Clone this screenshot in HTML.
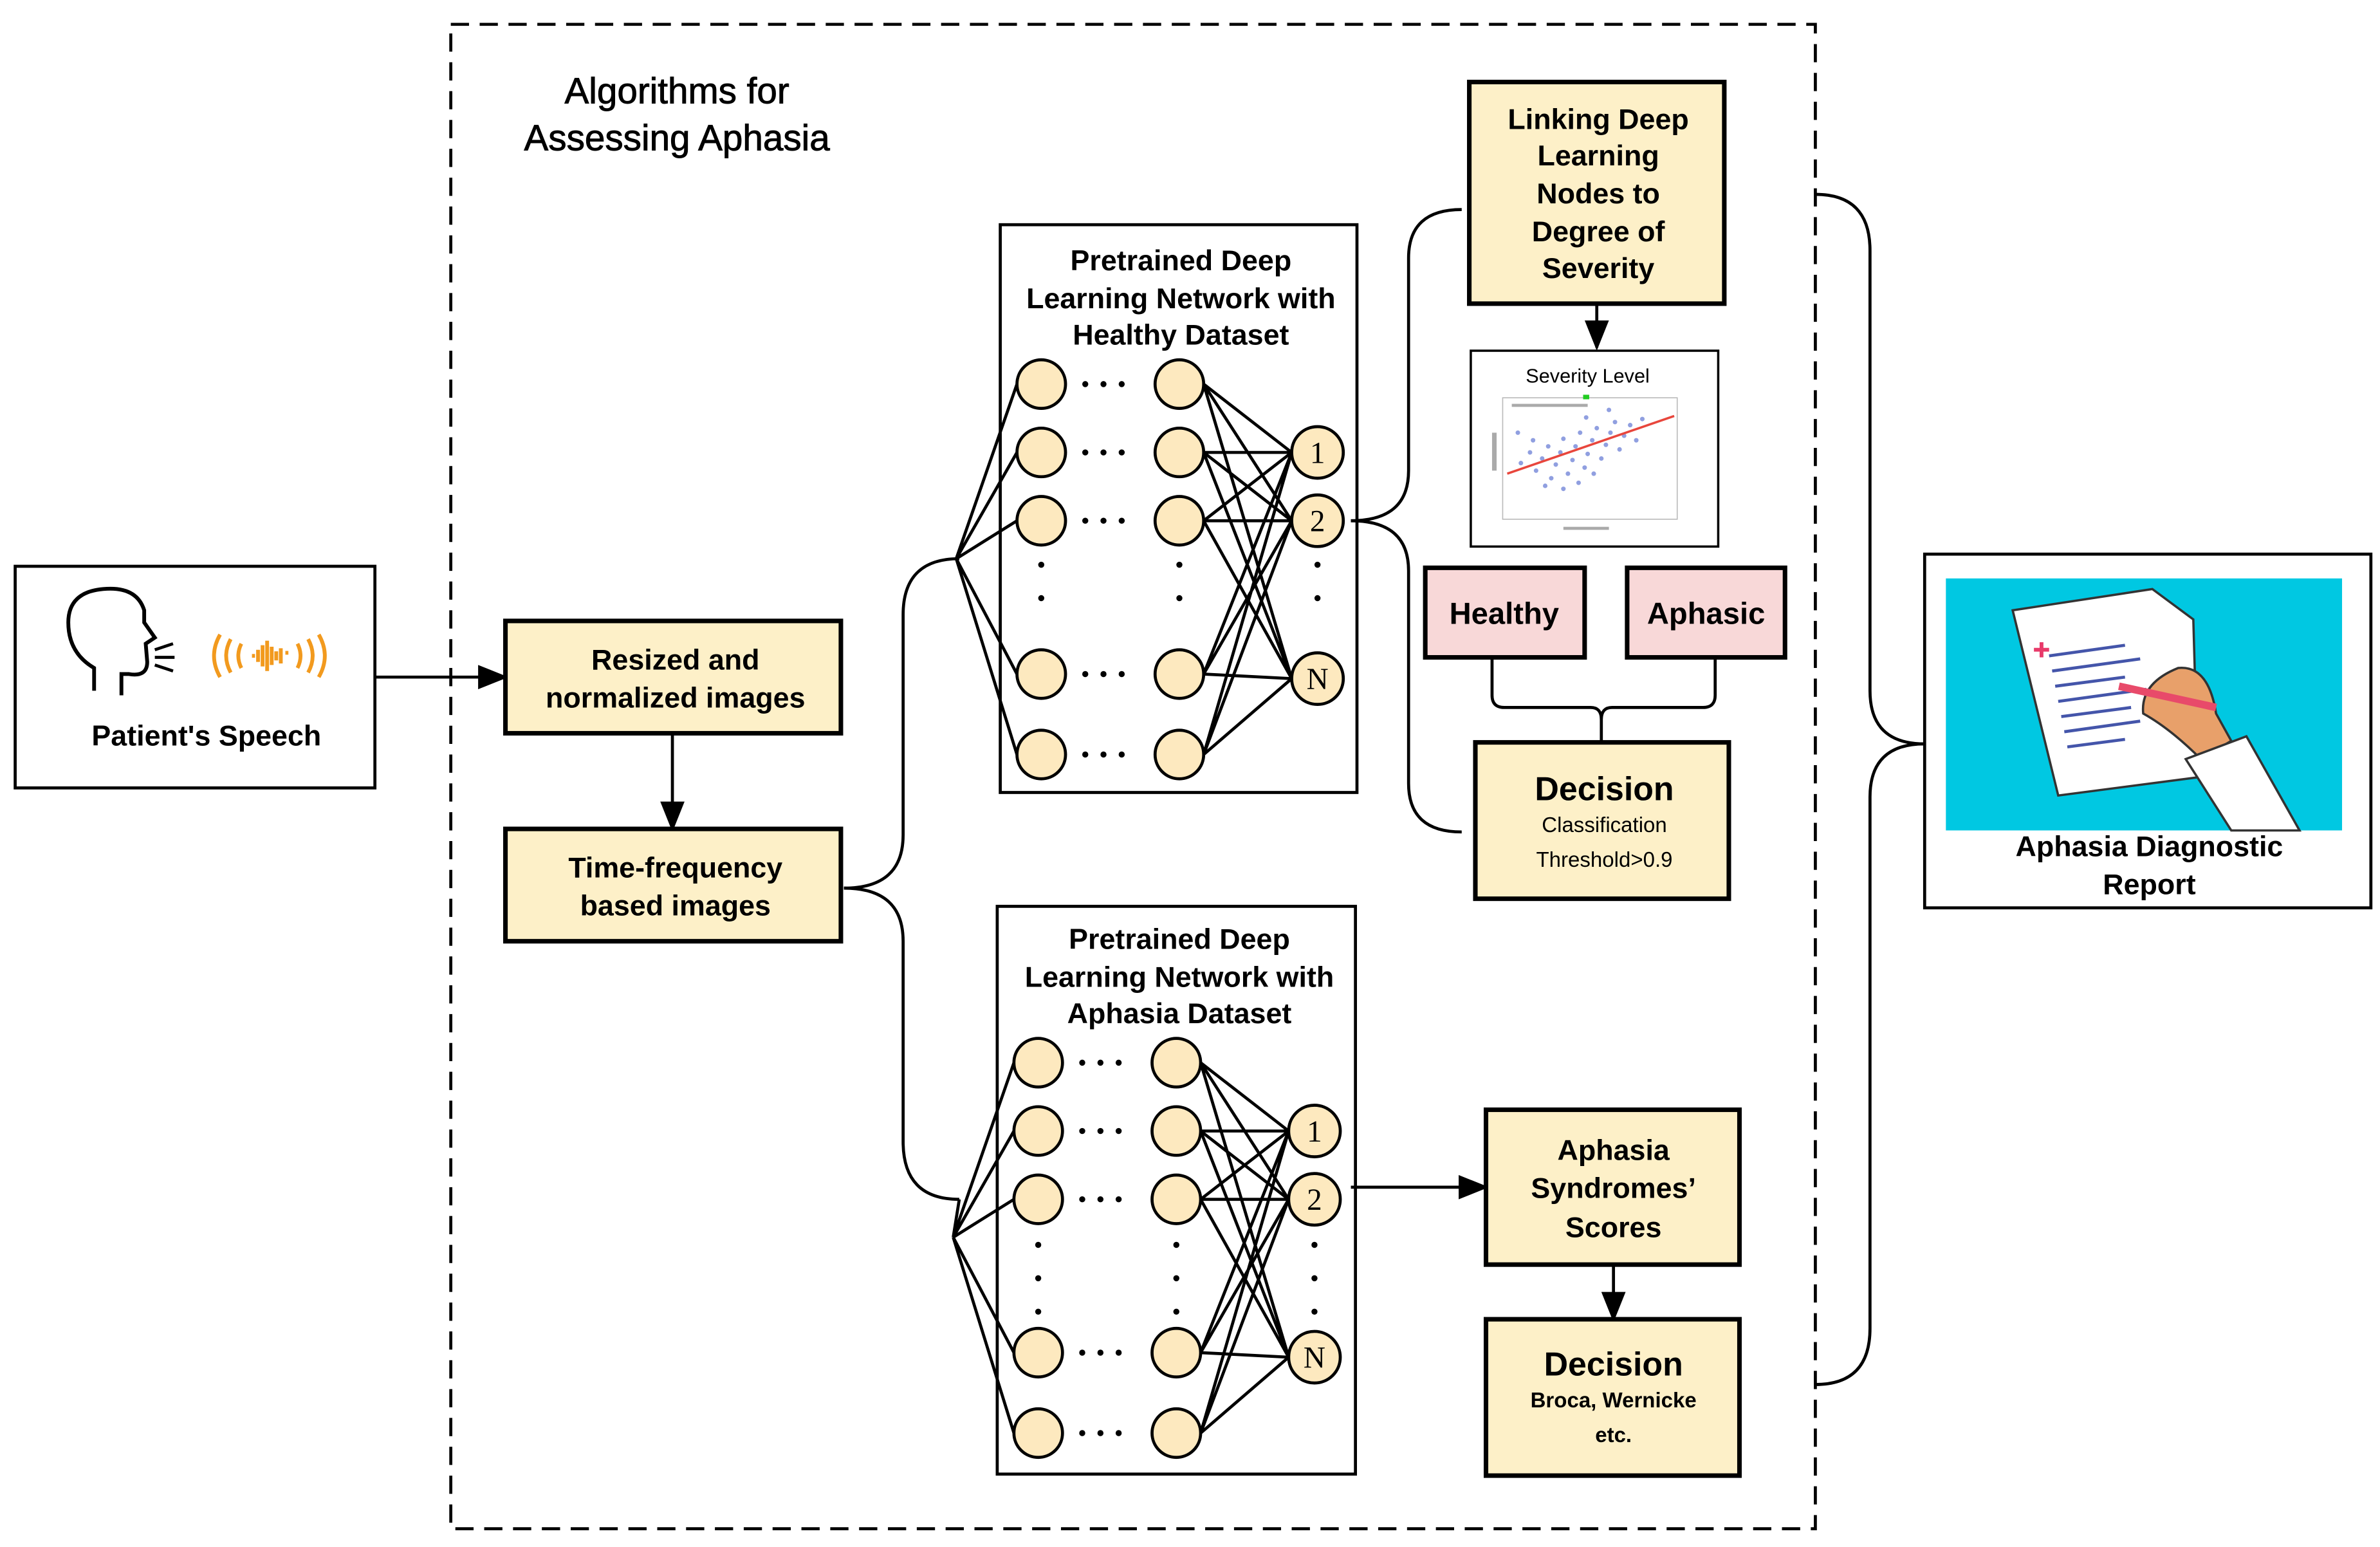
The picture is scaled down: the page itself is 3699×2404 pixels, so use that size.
<!DOCTYPE html>
<html><head><meta charset="utf-8"><style>
html,body{margin:0;padding:0;background:#fff}
svg{display:block}
text{font-family:"Liberation Sans",Arial,sans-serif;font-weight:bold;fill:#000}
</style></head><body>
<svg width="3699" height="2404" viewBox="0 0 1568 1019" xmlns="http://www.w3.org/2000/svg">
<defs>
<marker id="ah" markerWidth="20" markerHeight="16" refX="18" refY="8" orient="auto" markerUnits="userSpaceOnUse"><path d="M0,0 L20,8 L0,16 z"/></marker>
</defs>
<rect x="0" y="0" width="1568" height="1019" fill="#fff"/>
<rect x="297" y="16" width="899" height="991" fill="none" stroke="#000" stroke-width="2" stroke-dasharray="12,7"/>
<text x="446" y="68" font-size="24" text-anchor="middle" style="font-weight:normal;stroke:#000;stroke-width:0.4">Algorithms for</text>
<text x="446" y="99" font-size="24" text-anchor="middle" style="font-weight:normal;stroke:#000;stroke-width:0.4">Assessing Aphasia</text>

<rect x="10" y="373" width="237" height="146" fill="#fff" stroke="#000" stroke-width="2"/>
<path d="M62,455 L62,440 Q45,430 45,410 Q45,390 68,388 Q90,386 95,402 L95,410 L102,420 L96,424 L97,436 Q97,446 85,444 L80,444 L80,458" fill="none" stroke="#000" stroke-width="2.5"/>
<path d="M102,428 L114,424 M102,433 L115,433 M102,438 L114,442" stroke="#000" stroke-width="2"/>
<g fill="none" stroke="#f29a1e" stroke-width="2.5">
<path d="M145,418 Q137,432 145,446"/><path d="M152,421 Q146,432 152,443"/><path d="M159,424 Q155,432 159,440"/>
<path d="M210,418 Q218,432 210,446"/><path d="M203,421 Q209,432 203,443"/><path d="M196,424 Q200,432 196,440"/>
<path d="M166,432 L168,432 M170,428 L170,436 M173,425 L173,439 M176,422 L176,442 M179,426 L179,438 M182,429 L182,435 M185,427 L185,437 M188,430 L190,430"/>
</g>
<text x="136" y="491" font-size="19" text-anchor="middle">Patient's Speech</text>
<line x1="247" y1="446" x2="333" y2="446" stroke="#000" stroke-width="2" marker-end="url(#ah)"/>

<rect x="333" y="409" width="221" height="74" fill="#fdf0c8" stroke="#000" stroke-width="3"/>
<text x="445" y="441" font-size="19" text-anchor="middle">Resized and</text>
<text x="445" y="466" font-size="19" text-anchor="middle">normalized images</text>
<line x1="443" y1="484" x2="443" y2="546" stroke="#000" stroke-width="2" marker-end="url(#ah)"/>
<rect x="333" y="546" width="221" height="74" fill="#fdf0c8" stroke="#000" stroke-width="3"/>
<text x="445" y="578" font-size="19" text-anchor="middle">Time-frequency</text>
<text x="445" y="603" font-size="19" text-anchor="middle">based images</text>

<path d="M556,585 Q595,585 595,550 L595,405 Q595,368 632,368" fill="none" stroke="#000" stroke-width="2"/>
<path d="M556,585 Q595,585 595,620 L595,752 Q595,790 632,790" fill="none" stroke="#000" stroke-width="2"/>

<g stroke="#000" stroke-width="2" fill="none">
<rect x="659" y="148" width="235" height="374"/>
<path d="M630,368 L670,253 M630,368 L670,298 M630,368 L670,343 M630,368 L670,444 M630,368 L670,497"/>
<path d="M793,253 L851,298 M793,253 L851,343 M793,253 L851,447 M793,298 L851,298 M793,298 L851,343 M793,298 L851,447 M793,343 L851,298 M793,343 L851,343 M793,343 L851,447 M793,444 L851,298 M793,444 L851,343 M793,444 L851,447 M793,497 L851,298 M793,497 L851,343 M793,497 L851,447"/>
</g>
<g fill="#fde9bf" stroke="#000" stroke-width="2">
<circle cx="686" cy="253" r="16"/><circle cx="686" cy="298" r="16"/><circle cx="686" cy="343" r="16"/><circle cx="686" cy="444" r="16"/><circle cx="686" cy="497" r="16"/>
<circle cx="777" cy="253" r="16"/><circle cx="777" cy="298" r="16"/><circle cx="777" cy="343" r="16"/><circle cx="777" cy="444" r="16"/><circle cx="777" cy="497" r="16"/>
<circle cx="868" cy="298" r="17"/><circle cx="868" cy="343" r="17"/><circle cx="868" cy="447" r="17"/>
</g>
<g fill="#000">
<circle cx="715" cy="253" r="2"/><circle cx="727" cy="253" r="2"/><circle cx="739" cy="253" r="2"/>
<circle cx="715" cy="298" r="2"/><circle cx="727" cy="298" r="2"/><circle cx="739" cy="298" r="2"/>
<circle cx="715" cy="343" r="2"/><circle cx="727" cy="343" r="2"/><circle cx="739" cy="343" r="2"/>
<circle cx="715" cy="444" r="2"/><circle cx="727" cy="444" r="2"/><circle cx="739" cy="444" r="2"/>
<circle cx="715" cy="497" r="2"/><circle cx="727" cy="497" r="2"/><circle cx="739" cy="497" r="2"/>
<circle cx="686" cy="372" r="2"/><circle cx="686" cy="394" r="2"/>
<circle cx="777" cy="372" r="2"/><circle cx="777" cy="394" r="2"/>
<circle cx="868" cy="372" r="2"/><circle cx="868" cy="394" r="2"/>
</g>
<text x="868" y="305" font-size="20" text-anchor="middle" style="font-family:'Liberation Serif',serif;font-weight:normal">1</text>
<text x="868" y="350" font-size="20" text-anchor="middle" style="font-family:'Liberation Serif',serif;font-weight:normal">2</text>
<text x="868" y="454" font-size="20" text-anchor="middle" style="font-family:'Liberation Serif',serif;font-weight:normal">N</text>
<text x="778" y="178" font-size="19" text-anchor="middle">Pretrained Deep</text>
<text x="778" y="203" font-size="19" text-anchor="middle">Learning Network with</text>
<text x="778" y="227" font-size="19" text-anchor="middle">Healthy Dataset</text>

<g stroke="#000" stroke-width="2" fill="none">
<rect x="657" y="597" width="236" height="374"/>
<path d="M632,790 L628,815 M628,815 L668,700 M628,815 L668,745 M628,815 L668,790 M628,815 L668,891 M628,815 L668,944"/>
<path d="M791,700 L849,745 M791,700 L849,790 M791,700 L849,894 M791,745 L849,745 M791,745 L849,790 M791,745 L849,894 M791,790 L849,745 M791,790 L849,790 M791,790 L849,894 M791,891 L849,745 M791,891 L849,790 M791,891 L849,894 M791,944 L849,745 M791,944 L849,790 M791,944 L849,894"/>
</g>
<g fill="#fde9bf" stroke="#000" stroke-width="2">
<circle cx="684" cy="700" r="16"/><circle cx="684" cy="745" r="16"/><circle cx="684" cy="790" r="16"/><circle cx="684" cy="891" r="16"/><circle cx="684" cy="944" r="16"/>
<circle cx="775" cy="700" r="16"/><circle cx="775" cy="745" r="16"/><circle cx="775" cy="790" r="16"/><circle cx="775" cy="891" r="16"/><circle cx="775" cy="944" r="16"/>
<circle cx="866" cy="745" r="17"/><circle cx="866" cy="790" r="17"/><circle cx="866" cy="894" r="17"/>
</g>
<g fill="#000">
<circle cx="713" cy="700" r="2"/><circle cx="725" cy="700" r="2"/><circle cx="737" cy="700" r="2"/>
<circle cx="713" cy="745" r="2"/><circle cx="725" cy="745" r="2"/><circle cx="737" cy="745" r="2"/>
<circle cx="713" cy="790" r="2"/><circle cx="725" cy="790" r="2"/><circle cx="737" cy="790" r="2"/>
<circle cx="713" cy="891" r="2"/><circle cx="725" cy="891" r="2"/><circle cx="737" cy="891" r="2"/>
<circle cx="713" cy="944" r="2"/><circle cx="725" cy="944" r="2"/><circle cx="737" cy="944" r="2"/>
<circle cx="684" cy="820" r="2"/><circle cx="684" cy="842" r="2"/><circle cx="684" cy="864" r="2"/>
<circle cx="775" cy="820" r="2"/><circle cx="775" cy="842" r="2"/><circle cx="775" cy="864" r="2"/>
<circle cx="866" cy="820" r="2"/><circle cx="866" cy="842" r="2"/><circle cx="866" cy="864" r="2"/>
</g>
<text x="866" y="752" font-size="20" text-anchor="middle" style="font-family:'Liberation Serif',serif;font-weight:normal">1</text>
<text x="866" y="797" font-size="20" text-anchor="middle" style="font-family:'Liberation Serif',serif;font-weight:normal">2</text>
<text x="866" y="901" font-size="20" text-anchor="middle" style="font-family:'Liberation Serif',serif;font-weight:normal">N</text>
<text x="777" y="625" font-size="19" text-anchor="middle">Pretrained Deep</text>
<text x="777" y="650" font-size="19" text-anchor="middle">Learning Network with</text>
<text x="777" y="674" font-size="19" text-anchor="middle">Aphasia Dataset</text>

<path d="M890,343 Q928,343 928,310 L928,170 Q928,138 963,138" fill="none" stroke="#000" stroke-width="2"/>
<path d="M890,343 Q928,343 928,376 L928,516 Q928,548 963,548" fill="none" stroke="#000" stroke-width="2"/>

<rect x="968" y="54" width="168" height="146" fill="#fdf0c8" stroke="#000" stroke-width="3"/>
<text x="1053" y="85" font-size="19" text-anchor="middle">Linking Deep</text>
<text x="1053" y="109" font-size="19" text-anchor="middle">Learning</text>
<text x="1053" y="134" font-size="19" text-anchor="middle">Nodes to</text>
<text x="1053" y="159" font-size="19" text-anchor="middle">Degree of</text>
<text x="1053" y="183" font-size="19" text-anchor="middle">Severity</text>
<line x1="1052" y1="201" x2="1052" y2="229" stroke="#000" stroke-width="2" marker-end="url(#ah)"/>

<rect x="969" y="231" width="163" height="129" fill="#fff" stroke="#000" stroke-width="1.5"/>
<text x="1046" y="252" font-size="13" text-anchor="middle" style="font-weight:normal">Severity Level</text>
<rect x="990" y="262" width="115" height="80" fill="none" stroke="#bbb" stroke-width="0.7"/>
<g fill="#6b7fd6" opacity="0.75">
<circle cx="1002" cy="305" r="1.5"/><circle cx="1008" cy="298" r="1.5"/><circle cx="1012" cy="310" r="1.5"/><circle cx="1016" cy="302" r="1.5"/><circle cx="1020" cy="294" r="1.5"/><circle cx="1022" cy="315" r="1.5"/><circle cx="1025" cy="306" r="1.5"/><circle cx="1028" cy="298" r="1.5"/><circle cx="1030" cy="289" r="1.5"/><circle cx="1033" cy="312" r="1.5"/><circle cx="1036" cy="303" r="1.5"/><circle cx="1038" cy="294" r="1.5"/><circle cx="1041" cy="285" r="1.5"/><circle cx="1044" cy="308" r="1.5"/><circle cx="1046" cy="299" r="1.5"/><circle cx="1049" cy="290" r="1.5"/><circle cx="1052" cy="282" r="1.5"/><circle cx="1055" cy="302" r="1.5"/><circle cx="1058" cy="293" r="1.5"/><circle cx="1061" cy="285" r="1.5"/><circle cx="1064" cy="278" r="1.5"/><circle cx="1067" cy="296" r="1.5"/><circle cx="1070" cy="287" r="1.5"/><circle cx="1074" cy="280" r="1.5"/><circle cx="1078" cy="290" r="1.5"/><circle cx="1082" cy="276" r="1.5"/><circle cx="1018" cy="320" r="1.5"/><circle cx="1030" cy="322" r="1.5"/><circle cx="1040" cy="318" r="1.5"/><circle cx="1050" cy="312" r="1.5"/><circle cx="1010" cy="290" r="1.5"/><circle cx="1000" cy="285" r="1.5"/><circle cx="1060" cy="270" r="1.5"/><circle cx="1045" cy="275" r="1.5"/>
</g>
<g fill="#aaa"><rect x="996" y="266" width="50" height="2"/><rect x="983" y="285" width="3" height="25"/><rect x="1030" y="347" width="30" height="2"/></g>
<line x1="993" y1="312" x2="1103" y2="274" stroke="#e8463c" stroke-width="1.5"/>
<rect x="1043" y="260" width="4" height="3" fill="#2c2"/>

<rect x="939" y="374" width="105" height="59" fill="#f8d8d8" stroke="#000" stroke-width="3"/>
<text x="991" y="411" font-size="20" text-anchor="middle">Healthy</text>
<rect x="1072" y="374" width="104" height="59" fill="#f8d8d8" stroke="#000" stroke-width="3"/>
<text x="1124" y="411" font-size="20" text-anchor="middle">Aphasic</text>
<path d="M983,433 L983,458 Q983,466 991,466 L1048,466 Q1055,466 1055,474 L1055,489 M1055,474 Q1055,466 1062,466 L1122,466 Q1130,466 1130,458 L1130,433" fill="none" stroke="#000" stroke-width="2"/>

<rect x="972" y="489" width="167" height="103" fill="#fdf0c8" stroke="#000" stroke-width="3"/>
<text x="1057" y="527" font-size="22" text-anchor="middle">Decision</text>
<text x="1057" y="548" font-size="14" text-anchor="middle" style="font-weight:normal">Classification</text>
<text x="1057" y="571" font-size="14" text-anchor="middle" style="font-weight:normal">Threshold&gt;0.9</text>

<line x1="890" y1="782" x2="979" y2="782" stroke="#000" stroke-width="2" marker-end="url(#ah)"/>
<rect x="979" y="731" width="167" height="102" fill="#fdf0c8" stroke="#000" stroke-width="3"/>
<text x="1063" y="764" font-size="19" text-anchor="middle">Aphasia</text>
<text x="1063" y="789" font-size="19" text-anchor="middle">Syndromes’</text>
<text x="1063" y="815" font-size="19" text-anchor="middle">Scores</text>
<line x1="1063" y1="834" x2="1063" y2="869" stroke="#000" stroke-width="2" marker-end="url(#ah)"/>
<rect x="979" y="869" width="167" height="103" fill="#fdf0c8" stroke="#000" stroke-width="3"/>
<text x="1063" y="906" font-size="22" text-anchor="middle">Decision</text>
<text x="1063" y="927" font-size="14" text-anchor="middle">Broca, Wernicke</text>
<text x="1063" y="950" font-size="14" text-anchor="middle">etc.</text>

<path d="M1196,128 Q1232,128 1232,165 L1232,455 Q1232,490 1268,490" fill="none" stroke="#000" stroke-width="2"/>
<path d="M1196,912 Q1232,912 1232,875 L1232,525 Q1232,490 1268,490" fill="none" stroke="#000" stroke-width="2"/>

<rect x="1268" y="365" width="294" height="233" fill="#fff" stroke="#000" stroke-width="2"/>
<rect x="1282" y="381" width="261" height="166" fill="#00c8e2"/>
<path d="M1326,402 L1418,388 L1445,408 L1448,512 L1356,524 Z" fill="#fff" stroke="#333" stroke-width="1.5"/>
<g stroke="#4455aa" stroke-width="2">
<line x1="1350" y1="432" x2="1400" y2="425"/><line x1="1352" y1="442" x2="1410" y2="434"/><line x1="1354" y1="452" x2="1400" y2="446"/><line x1="1356" y1="462" x2="1414" y2="454"/><line x1="1358" y1="472" x2="1404" y2="466"/><line x1="1360" y1="482" x2="1410" y2="475"/><line x1="1362" y1="492" x2="1400" y2="487"/>
</g>
<path d="M1340,428 L1350,428 M1345,423 L1345,433" stroke="#e83a6a" stroke-width="2.5"/>
<path d="M1412,470 Q1410,450 1435,440 Q1455,438 1460,470 L1470,488 L1450,500 Q1430,480 1412,470Z" fill="#e8a06a" stroke="#333" stroke-width="1.5"/>
<path d="M1440,500 L1480,485 L1515,547 L1470,547 Z" fill="#fff" stroke="#333" stroke-width="1.5"/>
<line x1="1396" y1="452" x2="1460" y2="466" stroke="#e84a6a" stroke-width="5"/>
<text x="1416" y="564" font-size="19" text-anchor="middle">Aphasia Diagnostic</text>
<text x="1416" y="589" font-size="19" text-anchor="middle">Report</text>
</svg>
</body></html>
